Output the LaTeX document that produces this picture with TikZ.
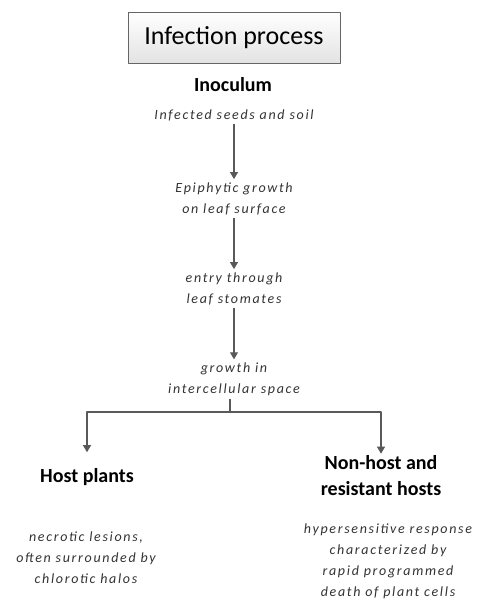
\documentclass[tikz,border=0pt]{standalone}
\usepackage{fontspec}
\setmainfont{Carlito}
\usetikzlibrary{arrows.meta}
\definecolor{arrowgray}{HTML}{595959}
\definecolor{textgray}{HTML}{333333}
\begin{document}
\begin{tikzpicture}[x=1pt, y=1pt, >={Triangle[width=8pt,length=7pt]}, line join=round,
	titlebox/.style={draw=gray!80!black, top color=white, bottom color=gray!22, minimum width=212pt, minimum height=51pt, font=\fontsize{26}{30}\selectfont},
	head/.style={font=\bfseries\fontsize{20}{26}\selectfont, align=center, inner sep=2pt},
	stage/.style={font=\itshape\addfontfeatures{LetterSpace=12}\fontsize{14}{21}\selectfont, text=textgray, align=center, inner sep=3pt},
	flow/.style={->, draw=arrowgray, line width=1.1pt}]
	\useasboundingbox (0,0) rectangle (476,-599);
	\node[titlebox] (title) at (234,-37.5) {Infection process};
	\node[head] (inoc) at (233,-85) {Inoculum};
	\node[stage] (seeds) at (234,-115) {Infected seeds and soil};
	\node[stage] (epi) at (234,-198.5) {Epiphytic growth\\on leaf surface};
	\node[stage] (entry) at (234,-288.5) {entry through\\leaf stomates};
	\node[stage] (growth) at (234,-379) {growth in\\intercellular space};
	\node[head] (host) at (87,-477) {Host plants};
	\node[head] (nonhost) at (381,-476) {Non-host and\\resistant hosts};
	\node[stage] (lesion) at (86,-558) {necrotic lesions,\\often surrounded by\\chlorotic halos};
	\node[stage] (hr) at (388,-561) {hypersensitive response\\characterized by\\rapid programmed\\death of plant cells};
	% main chain
	\draw[flow] (seeds) -- (epi);
	\draw[flow] (epi) -- (entry);
	\draw[flow] (entry) -- (growth);
	% split into the two outcomes
	\coordinate (split) at (230,-412);
	\draw[arrowgray, line width=1.1pt] (growth.south -| split) -- (split);
	\draw[flow, shorten >=14pt] (split) -| (host);
	\draw[flow] (split) -| (nonhost);
\end{tikzpicture}
\end{document}
